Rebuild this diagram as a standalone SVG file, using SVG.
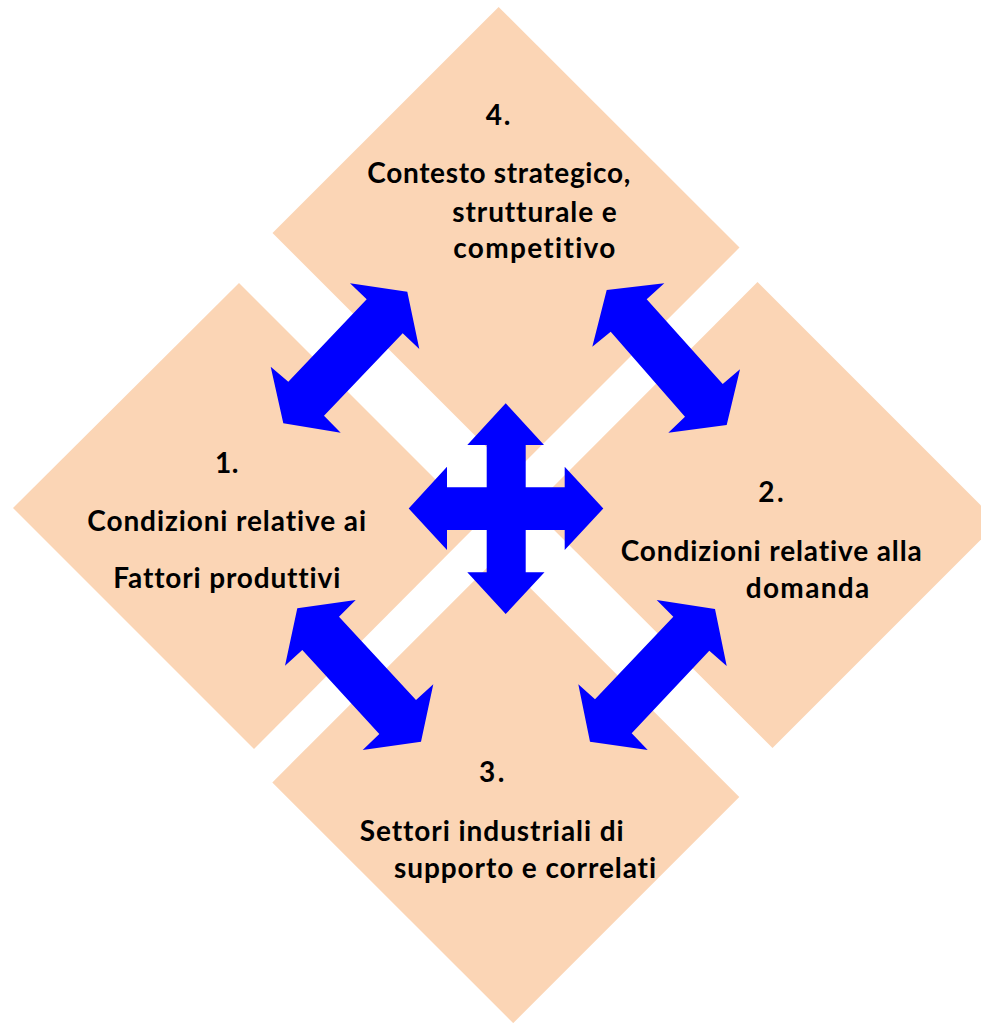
<svg xmlns="http://www.w3.org/2000/svg" width="981" height="1023" viewBox="0 0 981 1023">
<style>
.box{fill:#FBD5B5;stroke:none}
.arr{fill:#0000FF;stroke:none}
.t{font-family:Lato,"Open Sans","Liberation Sans",sans-serif;font-weight:bold;font-size:28px;fill:#000;font-variant-ligatures:none;font-feature-settings:"liga" 0}
</style>
<rect x="0" y="0" width="981" height="1023" fill="#FFFFFF"/>
<g id="node4">
<polygon class="box" points="498.6,6.9 739.5,247.6 513.2,473.7 272.5,233"/>
<text class="t" x="485.7" y="125" textLength="24.6">4.</text>
<text class="t" x="367.3" y="183.3" textLength="263">Contesto strategico,</text>
<text class="t" x="452.3" y="221.7" textLength="164.4">strutturale e</text>
<text class="t" x="453.3" y="258.3" textLength="162">competitivo</text>
</g>
<g id="node1">
<polygon class="box" points="239,283 479,523 254,749 13,508"/>
<text class="t" x="215" y="472.7" textLength="23.3">1.</text>
<text class="t" x="87.3" y="530.7" textLength="278.7">Condizioni relative ai</text>
<text class="t" x="113.3" y="587.7" textLength="227">Fattori produttivi</text>
</g>
<g id="node2">
<polygon class="box" points="757.5,282 998,522.5 772.5,748 532,508"/>
<text class="t" x="758.3" y="502.3" textLength="25.4">2.</text>
<text class="t" x="620.7" y="560.7" textLength="301">Condizioni relative alla</text>
<text class="t" x="745.7" y="598.3" textLength="123.6">domanda</text>
</g>
<g id="node3">
<polygon class="box" points="498.6,556.3 739.3,797 513.2,1023.1 272.3,782.4"/>
<text class="t" x="479" y="782.3" textLength="25.3">3.</text>
<text class="t" x="359.7" y="840.7" textLength="264">Settori industriali di</text>
<text class="t" x="394" y="878.3" textLength="262">supporto e correlati</text>
</g>
<g id="connectors">
<polygon class="arr" points="407.3,291.7 419.3,349 402.7,333.3 324,415.7 340.7,432.7 283.3,423.3 270.7,366.7 288.3,381.7 366.7,299.3 350,283.3"/>
<polygon class="arr" points="606.7,290 664.3,283.3 646.7,299.3 722.7,384 740,369.3 726.7,425 668.3,432.7 685,416.7 610.7,331.7 592.3,346.7"/>
<polygon class="arr" points="297.3,608.3 355.7,600 339,616.7 416,700 433.3,684.3 421,741.7 362.7,750 379.3,734 302.3,650 285,665.7"/>
<polygon class="arr" points="715,609 726.7,666 709.3,650.7 631.7,733.3 647.7,750 590,741.7 578.3,684.3 595,699.3 673.3,616.7 656.7,600"/>
<polygon class="arr" points="505.7,403.3 544,445 525.7,445 525.7,487.3 564.7,487.3 564.7,466.7 603.3,508.5 564.7,550 564.7,530 525.7,530 525.7,572.3 544.5,572.3 505.7,614 467.3,572.3 486.7,572.3 486.7,530 447,530 447,550 408.7,508.5 447,466.7 447,487.3 486.7,487.3 486.7,445 467.3,445"/>
</g>
</svg>
